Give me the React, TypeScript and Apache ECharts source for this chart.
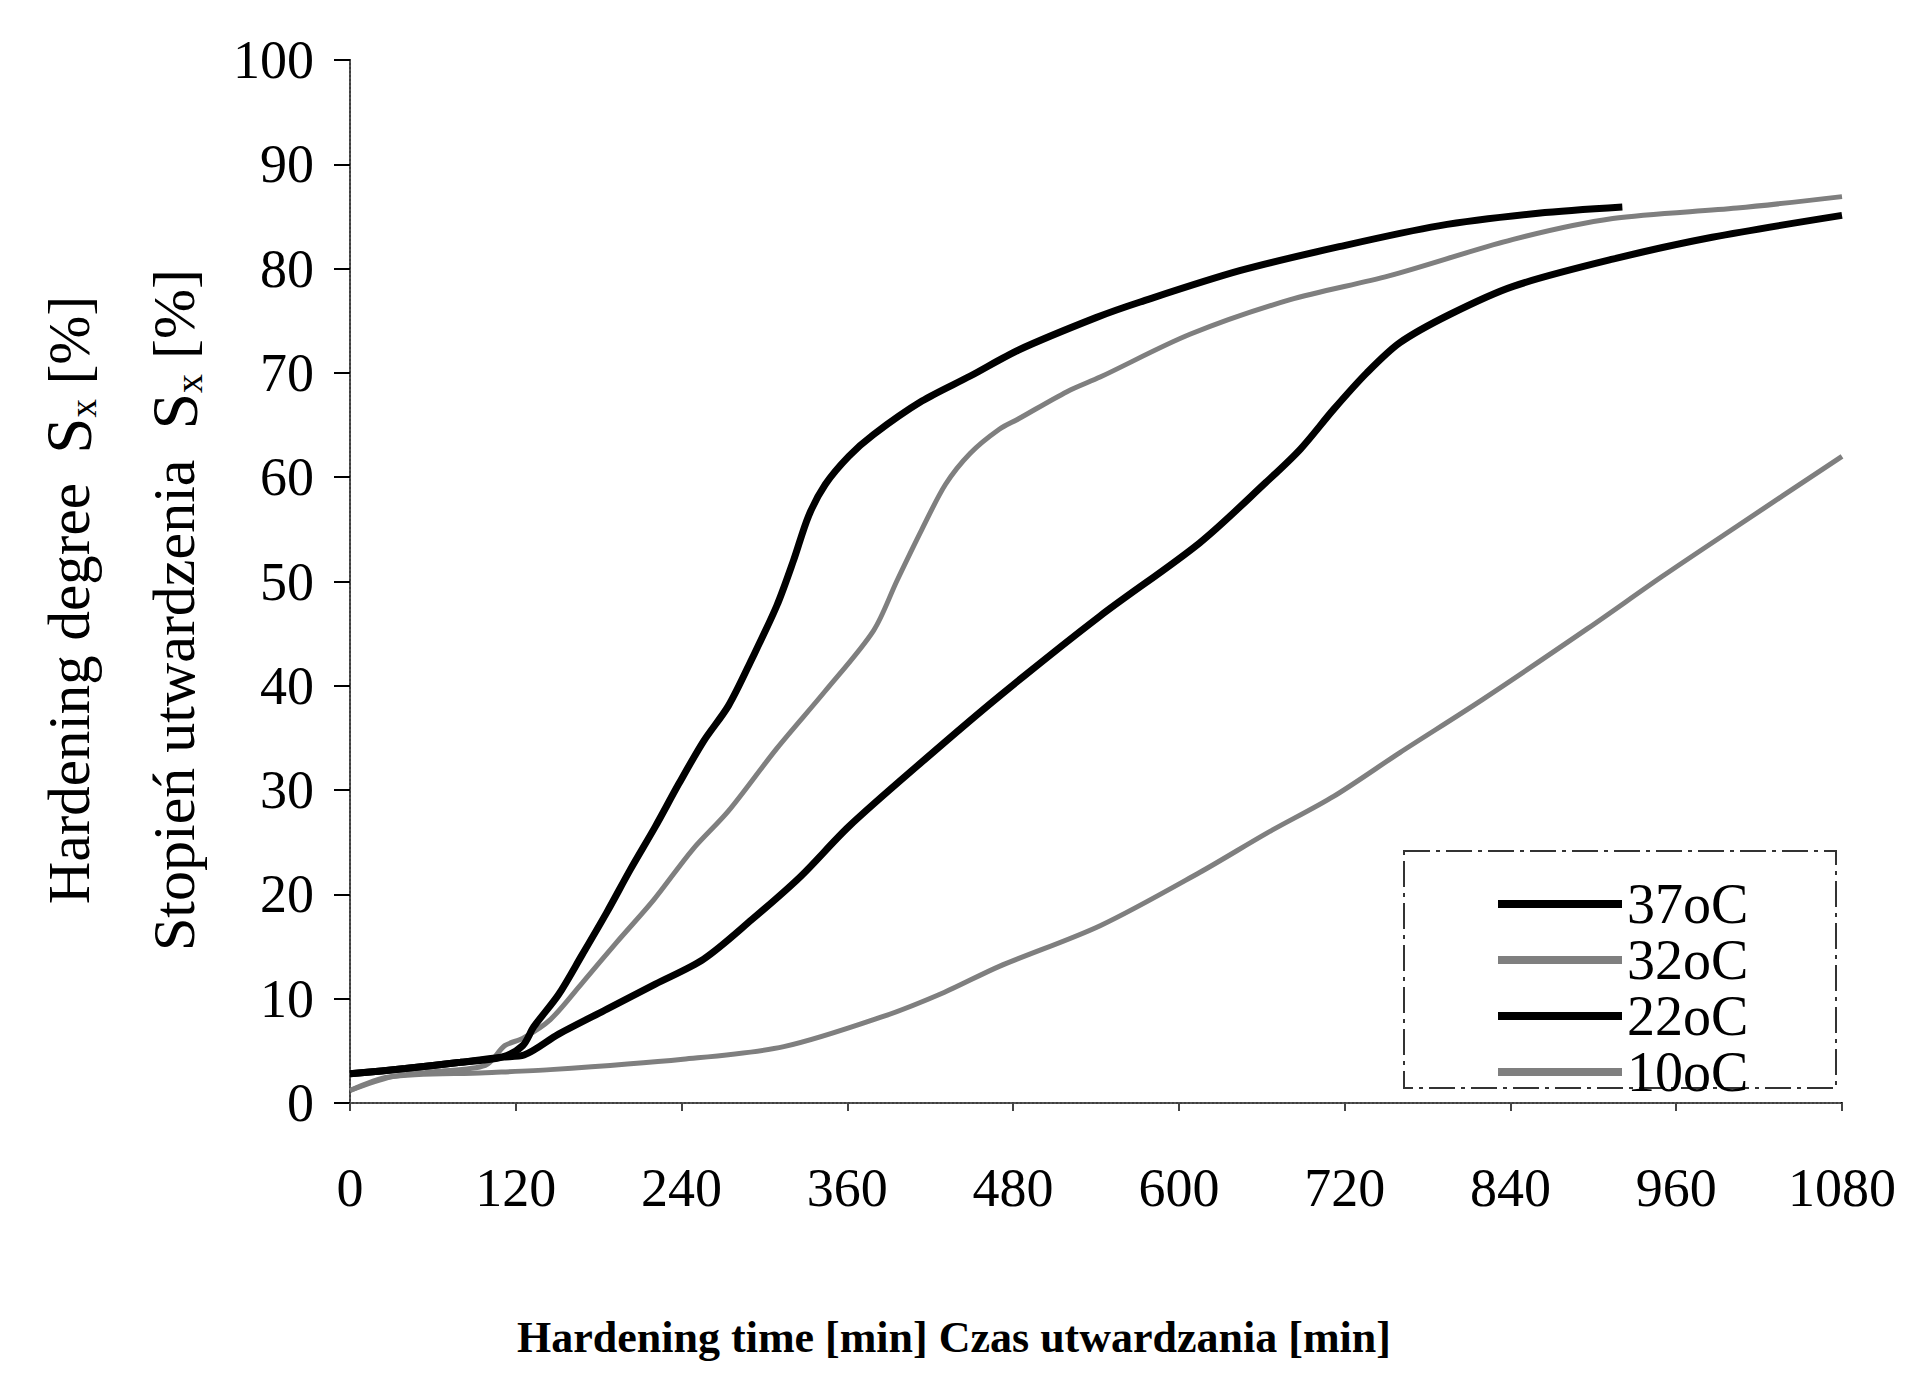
import React, { useEffect, useRef } from "react";
import * as echarts from "echarts";

const FONT = "'Liberation Serif', 'Times New Roman', Times, serif";

// Hardening time [min] and hardening degree [%] per temperature
const t37 = [0, 40, 80, 110, 125, 133, 151, 168, 186, 203, 221, 238, 256, 274, 291, 309, 321, 332, 344, 361, 379, 414, 449, 484, 540, 572, 644, 716, 788, 860, 921];
const s37 = [2.8, 3.3, 3.9, 4.4, 5.5, 7.3, 10.4, 14.2, 18.3, 22.4, 26.5, 30.6, 34.7, 38.1, 42.6, 47.7, 52, 56.3, 59.3, 62, 64.1, 67.3, 69.7, 72.2, 75.3, 76.8, 79.8, 82.1, 84.1, 85.3, 85.9];

const t32 = [0, 30, 60, 98, 112, 125, 145, 168, 193, 220, 248, 274, 309, 344, 379, 396, 414, 431, 449, 470, 484, 519, 543, 608, 680, 752, 842, 914, 1004, 1080];
const s32 = [1.2, 2.5, 3.0, 3.6, 5.5, 6.2, 8.0, 11.5, 15.4, 19.5, 24.3, 28, 34, 39.5, 45.3, 50.1, 55, 59.3, 62.3, 64.6, 65.6, 68.2, 69.6, 73.7, 77, 79.3, 82.8, 84.8, 85.8, 86.9];

const t22 = [0, 40, 80, 110, 126, 151, 186, 221, 256, 291, 326, 361, 414, 470, 543, 615, 663, 688, 712, 736, 760, 796, 842, 914, 986, 1080];
const s22 = [2.8, 3.3, 3.9, 4.4, 4.6, 6.6, 9.0, 11.4, 13.8, 17.6, 21.7, 26.5, 32.7, 39, 46.7, 53.7, 59.5, 62.7, 66.5, 70, 72.9, 75.6, 78.3, 80.9, 83, 85.1];

const t10 = [0, 28, 98, 145, 241, 314, 386, 430, 470, 543, 615, 664, 712, 760, 820, 896, 950, 1004, 1080];
const s10 = [1.2, 2.5, 2.9, 3.2, 4.2, 5.4, 8.3, 10.6, 13.1, 17, 22.1, 25.9, 29.4, 33.6, 38.7, 45.5, 50.5, 55.3, 62];

const seriesNames = ["37oC", "32oC", "22oC", "10oC"];
const xTicks = { min: 0, max: 1080, interval: 120 };
const yTicks = { min: 0, max: 100, interval: 10 };

const pairs = (t: number[], s: number[]) => t.map((x, i) => [x, s[i]]);

export default function App() {
  const ref = useRef<HTMLDivElement>(null);
  useEffect(() => {
    document.body.style.margin = "0";
    const chart = echarts.init(ref.current!, null, { renderer: "svg" });
    const black = "#000000";
    const gray = "#7f7f7f";
    const mk = (name: string, t: number[], s: number[], color: string, width: number, z: number) => ({
      name,
      type: "line",
      xAxisIndex: 0,
      yAxisIndex: 0,
      data: pairs(t, s),
      symbol: "none",
      smooth: 0.3,
      z,
      lineStyle: { color, width },
      itemStyle: { color },
    });
    chart.setOption({
      animation: false,
      backgroundColor: "#ffffff",
      grid: { left: 350, top: 60, width: 1492, height: 1043, containLabel: false },
      xAxis: [
        {
          type: "value",
          min: xTicks.min,
          max: xTicks.max,
          interval: xTicks.interval,
          axisLine: { lineStyle: { color: "#000", width: 2 } },
          axisTick: { show: true, length: 8, lineStyle: { color: "#444", width: 2 } },
          axisLabel: { fontSize: 54, color: "#000", fontFamily: FONT, margin: 58, formatter: (v: number) => String(v) },
          splitLine: { show: false },
        },
        {
          type: "value",
          position: "top",
          min: xTicks.min,
          max: xTicks.max,
          interval: xTicks.interval,
          axisLine: { lineStyle: { color: "#555", width: 2, type: "dotted" } },
          axisTick: { show: false },
          axisLabel: { show: false },
          splitLine: { show: false },
        },
      ],
      yAxis: [
        {
          type: "value",
          min: yTicks.min,
          max: yTicks.max,
          interval: yTicks.interval,
          axisLine: { show: true, lineStyle: { color: "#000", width: 2 } },
          axisTick: { show: true, length: 16, lineStyle: { color: "#000", width: 2 } },
          axisLabel: { fontSize: 54, color: "#000", fontFamily: FONT, margin: 36 },
          splitLine: { show: false },
        },
        {
          type: "value",
          position: "right",
          min: yTicks.min,
          max: yTicks.max,
          interval: yTicks.interval,
          axisLine: { show: true, lineStyle: { color: "#555", width: 2, type: "dotted" } },
          axisTick: { show: false },
          axisLabel: { show: false },
          splitLine: { show: false },
        },
      ],
      legend: {
        orient: "vertical",
        left: 1493,
        top: 871,
        itemWidth: 124,
        itemHeight: 8,
        itemGap: 0,
        textStyle: { fontSize: 56, lineHeight: 49, color: "#000", fontFamily: FONT },
        data: [
          { name: seriesNames[0], icon: "rect", itemStyle: { color: black } },
          { name: seriesNames[1], icon: "rect", itemStyle: { color: gray } },
          { name: seriesNames[2], icon: "rect", itemStyle: { color: black } },
          { name: seriesNames[3], icon: "rect", itemStyle: { color: gray } },
        ],
      },
      series: [
        mk(seriesNames[0], t37, s37, black, 7, 4),
        mk(seriesNames[1], t32, s32, gray, 5, 2),
        mk(seriesNames[2], t22, s22, black, 7, 3),
        mk(seriesNames[3], t10, s10, gray, 5, 1),
      ],
      graphic: [
        {
          type: "rect",
          shape: { x: 1404, y: 851, width: 432, height: 237 },
          style: { fill: "none", stroke: "#333", lineWidth: 2, lineDash: [26, 6, 4, 6] },
          z: 0,
        },
        {
          type: "text",
          x: 69,
          y: 600,
          rotation: Math.PI / 2,
          style: {
            text: "Hardening degree  {s|S}{sub|x} [%]",
            font: `59px ${FONT}`,
            fill: "#000",
            align: "center",
            verticalAlign: "middle",
            rich: {
              s: { fontSize: 65, fontFamily: FONT, fill: "#000", lineHeight: 66 },
              sub: { fontSize: 37, fontFamily: FONT, fill: "#000", verticalAlign: "bottom", lineHeight: 66 },
            },
          },
        },
        {
          type: "text",
          x: 174,
          y: 610,
          rotation: Math.PI / 2,
          style: {
            text: "Stopień utwardzenia  {s|S}{sub|x} [%]",
            font: `60px ${FONT}`,
            fill: "#000",
            align: "center",
            verticalAlign: "middle",
            rich: {
              s: { fontSize: 66, fontFamily: FONT, fill: "#000", lineHeight: 68 },
              sub: { fontSize: 38, fontFamily: FONT, fill: "#000", verticalAlign: "bottom", lineHeight: 68 },
            },
          },
        },
        {
          type: "text",
          x: 954,
          y: 1337,
          style: {
            text: "Hardening time [min] Czas utwardzania [min]",
            font: `bold 44px ${FONT}`,
            fill: "#000",
            align: "center",
            verticalAlign: "middle",
          },
        },
      ],
    });
    return () => chart.dispose();
  }, []);
  return <div ref={ref} style={{ width: 1906, height: 1373 }} />;
}
